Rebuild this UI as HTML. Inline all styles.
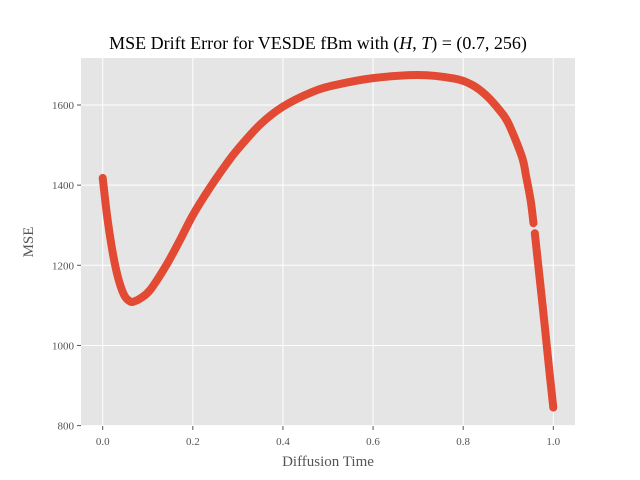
<!DOCTYPE html>
<html><head><meta charset="utf-8"><style>
body{margin:0;background:#fff}
svg{display:block;font-family:"Liberation Serif",serif}
</style></head><body>
<svg id="chart" width="640" height="480">
<rect x="81" y="58" width="494" height="368" fill="#e5e5e5"/>
<g id="grid"></g>
<g id="series"></g>
<g id="ticks"></g>
<text x="318" y="49" text-anchor="middle" font-size="18" fill="#000">MSE Drift Error for VESDE fBm with (<tspan font-style="italic">H</tspan>, <tspan font-style="italic">T</tspan>) = (0.7, 256)</text>
<text x="328" y="466" text-anchor="middle" font-size="15" fill="#555">Diffusion Time</text>
<text transform="translate(33,242) rotate(-90)" text-anchor="middle" font-size="15" fill="#555">MSE</text>
</svg>
<script>
const xTicks=[0,0.2,0.4,0.6,0.8,1.0];
const xTickLabels=["0.0","0.2","0.4","0.6","0.8","1.0"];
const yTicks=[800,1000,1200,1400,1600];
const yTickLabels=["800","1000","1200","1400","1600"];
const seg1T=[0,0.01,0.02,0.03,0.04,0.05,0.062,0.07,0.083,0.105,0.141,0.171,0.2,0.237,0.274,0.3,0.35,0.4,0.466,0.517,0.6,0.7,0.78,0.82,0.85,0.88,0.9,0.93,0.94,0.95,0.956];
const seg1V=[1418,1321,1246,1188,1147,1121,1109,1110,1117,1138,1200,1262,1325,1392,1452,1490,1552,1596,1633,1650,1667,1675,1666,1650,1625,1588,1555,1472,1420,1360,1305];
const seg2T=[0.959,0.97,0.98,0.99,1.0];
const seg2V=[1280,1165,1060,950,845];
const X=t=>102.7+t*(553.3-102.7);
const Y=v=>425.6-(v-800)*(425.6-105)/800;
const NS="http://www.w3.org/2000/svg";
const mk=(p,tag,a)=>{const e=document.createElementNS(NS,tag);for(const k in a)e.setAttribute(k,a[k]);p.appendChild(e);return e;};
const grid=document.getElementById('grid'),ticks=document.getElementById('ticks'),series=document.getElementById('series');
xTicks.forEach((t,i)=>{
 const l=mk(grid,'line',{x1:X(t),x2:X(t),y1:58,y2:426,stroke:'#fff','stroke-width':1});
 
 
 const tk=mk(ticks,'line',{x1:X(t),x2:X(t),y1:426,y2:430,stroke:'#555'});
 
 
 const tx=mk(ticks,'text',{x:X(t),y:445,'text-anchor':'middle','font-size':11,fill:'#555'});
 tx.textContent=xTickLabels[i];
 
 
});
yTicks.forEach((v,i)=>{
 const l=mk(grid,'line',{x1:81,x2:575,y1:Y(v),y2:Y(v),stroke:'#fff','stroke-width':1});
 
 
 const tk=mk(ticks,'line',{x1:77,x2:81,y1:Y(v),y2:Y(v),stroke:'#555'});
 
 
 const tx=mk(ticks,'text',{x:74,y:Y(v)+4,'text-anchor':'end','font-size':11,fill:'#555'});
 tx.textContent=yTickLabels[i];
 
 
});
function crPath(ts,vs){
 const p=ts.map((t,i)=>[X(t),Y(vs[i])]);
 let d='M'+p[0][0]+','+p[0][1];
 for(let i=0;i<p.length-1;i++){
  const p0=p[Math.max(0,i-1)],p1=p[i],p2=p[i+1],p3=p[Math.min(p.length-1,i+2)];
  const c1=[p1[0]+(p2[0]-p0[0])/6,p1[1]+(p2[1]-p0[1])/6];
  const c2=[p2[0]-(p3[0]-p1[0])/6,p2[1]-(p3[1]-p1[1])/6];
  d+=' C'+c1+' '+c2+' '+p2;
 }
 return d;
}
[[seg1T,seg1V],[seg2T,seg2V]].forEach(([ts,vs])=>{
 const path=mk(series,'path',{d:crPath(ts,vs),fill:'none',stroke:'#e24a33','stroke-width':8,'stroke-linecap':'round','stroke-linejoin':'round'});
 
 
});
</script>
</body></html>
